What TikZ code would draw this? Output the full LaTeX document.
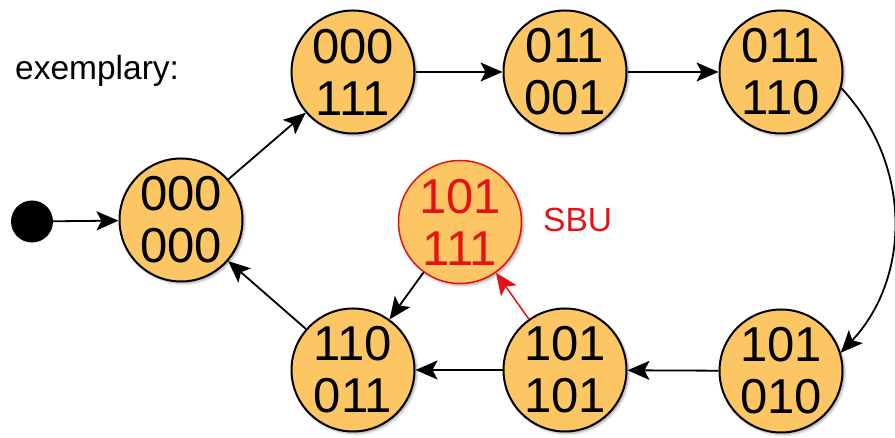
\documentclass[tikz,border=0pt]{standalone}
\usepackage{fontspec}
\setmainfont{Liberation Sans}
\usetikzlibrary{arrows.meta,shadows.blur}

\definecolor{statefill}{RGB}{251,198,99}
\definecolor{sbured}{RGB}{228,18,22}

\tikzset{
  state/.style={circle, draw=black, line width=2pt, fill=statefill,
    minimum size=123pt, inner sep=0pt, align=center,
    font=\fontsize{49}{52}\selectfont,
    blur shadow={shadow xshift=2pt, shadow yshift=-2pt,
      shadow blur radius=2.5pt, shadow opacity=35}},
  badstate/.style={state, draw=sbured, line width=1.5pt, text=sbured},
  arr/.style={line width=1.8pt, -{Stealth[length=22pt,width=19pt,inset=5pt]}},
  redarr/.style={arr, draw=sbured, fill=sbured, line width=1.5pt},
  lbl/.style={inner sep=0pt, anchor=base west, font=\fontsize{33.5}{38}\selectfont}
}

\begin{document}
\begin{tikzpicture}[x=1pt,y=1pt]
  \useasboundingbox (0,0) rectangle (895,438);

  % initial marker
  \node[circle, fill=black, minimum size=42pt, inner sep=0pt] (start) at (32,216.5) {};

  % states
  \node[state] (n0) at (181,218) {000\\000};
  \node[state] (n1) at (353,366) {000\\111};
  \node[state] (n2) at (565,366) {011\\001};
  \node[state] (n3) at (781,366) {011\\110};
  \node[state] (n4) at (781,67) {101\\010};
  \node[state] (n5) at (565,68) {101\\101};
  \node[state] (n6) at (353,68) {110\\011};
  \node[badstate] (sbu) at (460,216) {101\\111};

  % labels
  \node[lbl] (ex) at (15,358) {exemplary:};
  \node[lbl, text=sbured] (sbulbl) at (543,206) {SBU};

  % transitions
  \draw[arr] (start) -- (n0);
  \draw[arr] (n0) -- (n1);
  \draw[arr] (n1) -- (n2);
  \draw[arr] (n2) -- (n3);
  \draw[arr] (n3.-15) to[out=-47,in=47] (n4.17);
  \draw[arr] (n4) -- (n5);
  \draw[arr] (n5) -- (n6);
  \draw[arr] (n6) -- (n0);
  \draw[redarr] (n5) -- (sbu);
  \draw[arr] (sbu) -- (n6);
\end{tikzpicture}
\end{document}
